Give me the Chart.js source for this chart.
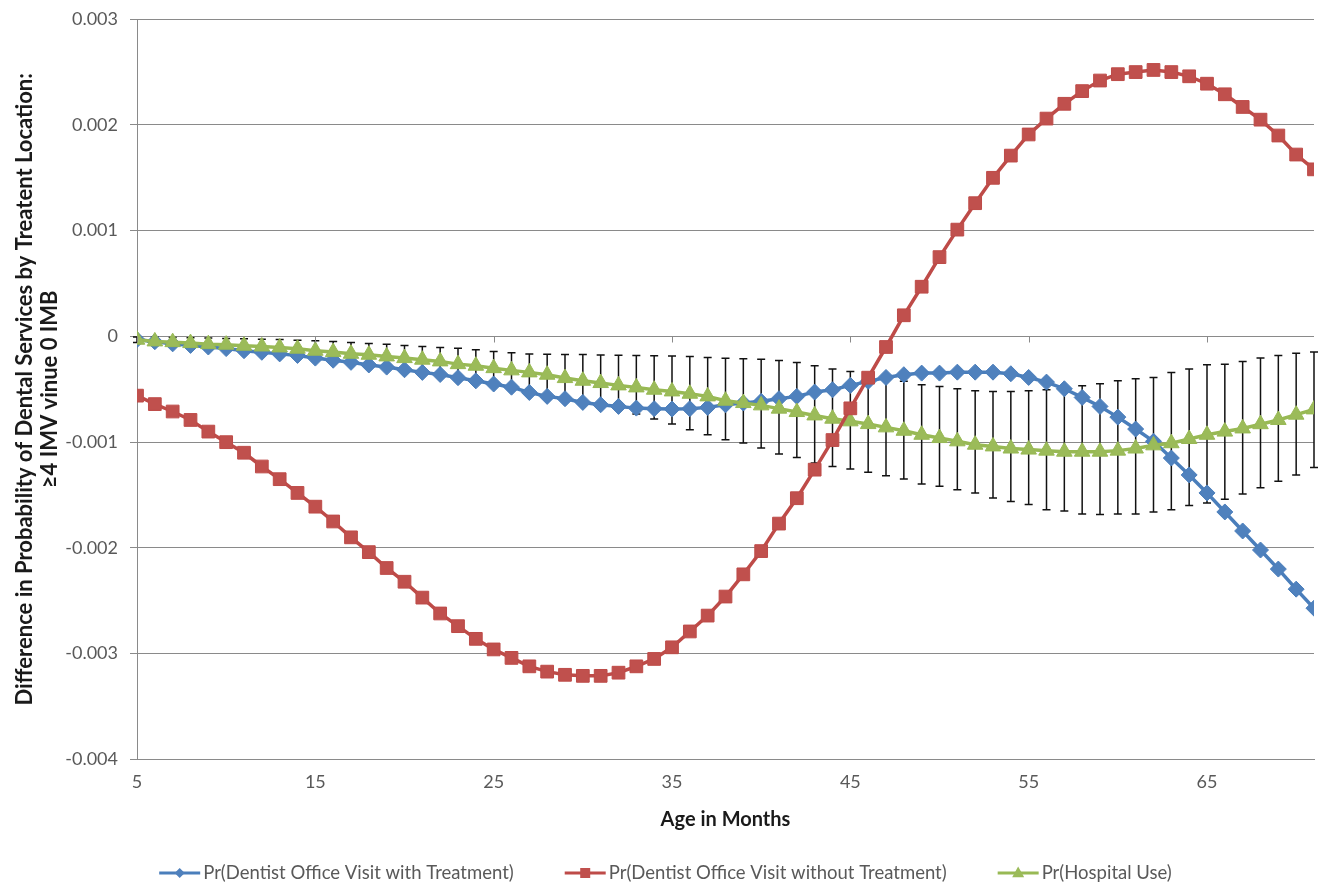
<!DOCTYPE html>
<html>
<head>
    <title>Dental services by treatment location</title>
    <script src="https://cdn.jsdelivr.net/npm/chart.js@4/dist/chart.umd.min.js"></script>
    <style>
        html, body { margin: 0; padding: 0; background: #fff; }
        #holder { width: 1331px; height: 888px; }
    </style>
</head>
<body>
    <div id="holder">
        <canvas id="chart-area"></canvas>
    </div>

    <script>
        // ages in months (categories)
        var ages = [5, 6, 7, 8, 9, 10, 11, 12, 13, 14, 15, 16, 17, 18, 19, 20, 21, 22, 23, 24, 25, 26, 27, 28, 29, 30,
            31, 32, 33, 34, 35, 36, 37, 38, 39, 40, 41, 42, 43, 44, 45, 46, 47, 48, 49, 50, 51, 52, 53, 54, 55, 56,
            57, 58, 59, 60, 61, 62, 63, 64, 65, 66, 67, 68, 69, 70, 71];

        var xTicks = [5, 15, 25, 35, 45, 55, 65];
        var yTicks = [-0.004, -0.003, -0.002, -0.001, 0, 0.001, 0.002, 0.003];

        var seriesNames = [
            'Pr(Dentist Office Visit with Treatment)',
            'Pr(Dentist Office Visit without Treatment)',
            'Pr(Hospital Use)'
        ];

        var withTreatment = [
            -0.03e-3, -0.05e-3, -0.07e-3, -0.085e-3, -0.10e-3, -0.115e-3, -0.135e-3, -0.15e-3, -0.165e-3, -0.18e-3,
            -0.205e-3, -0.225e-3, -0.245e-3, -0.27e-3, -0.29e-3, -0.315e-3, -0.34e-3, -0.36e-3, -0.39e-3, -0.42e-3,
            -0.45e-3, -0.48e-3, -0.53e-3, -0.567e-3, -0.589e-3, -0.624e-3, -0.646e-3, -0.662e-3, -0.678e-3, -0.683e-3,
            -0.687e-3, -0.683e-3, -0.671e-3, -0.646e-3, -0.63e-3, -0.614e-3, -0.589e-3, -0.567e-3, -0.526e-3, -0.504e-3,
            -0.463e-3, -0.425e-3, -0.388e-3, -0.362e-3, -0.347e-3, -0.347e-3, -0.338e-3, -0.338e-3, -0.338e-3, -0.353e-3,
            -0.388e-3, -0.432e-3, -0.495e-3, -0.577e-3, -0.662e-3, -0.763e-3, -0.876e-3, -0.992e-3, -1.15e-3, -1.31e-3,
            -1.48e-3, -1.66e-3, -1.84e-3, -2.02e-3, -2.20e-3, -2.39e-3, -2.57e-3
        ];

        var withoutTreatment = [
            -0.56e-3, -0.64e-3, -0.71e-3, -0.79e-3, -0.90e-3, -1.00e-3, -1.10e-3, -1.23e-3, -1.35e-3, -1.48e-3,
            -1.61e-3, -1.75e-3, -1.90e-3, -2.04e-3, -2.19e-3, -2.32e-3, -2.47e-3, -2.62e-3, -2.74e-3, -2.86e-3,
            -2.96e-3, -3.04e-3, -3.12e-3, -3.17e-3, -3.20e-3, -3.21e-3, -3.21e-3, -3.18e-3, -3.12e-3, -3.05e-3,
            -2.94e-3, -2.79e-3, -2.64e-3, -2.46e-3, -2.25e-3, -2.03e-3, -1.77e-3, -1.53e-3, -1.26e-3, -0.98e-3,
            -0.68e-3, -0.39e-3, -0.10e-3, 0.20e-3, 0.47e-3, 0.75e-3, 1.01e-3, 1.26e-3, 1.50e-3, 1.71e-3,
            1.91e-3, 2.06e-3, 2.20e-3, 2.32e-3, 2.42e-3, 2.48e-3, 2.50e-3, 2.52e-3, 2.50e-3, 2.46e-3,
            2.39e-3, 2.29e-3, 2.17e-3, 2.05e-3, 1.90e-3, 1.72e-3, 1.58e-3
        ];

        var hospitalUse = [
            -0.031e-3, -0.047e-3, -0.054e-3, -0.063e-3, -0.073e-3, -0.078e-3, -0.088e-3, -0.095e-3, -0.104e-3, -0.116e-3,
            -0.135e-3, -0.148e-3, -0.164e-3, -0.173e-3, -0.189e-3, -0.205e-3, -0.22e-3, -0.236e-3, -0.262e-3, -0.277e-3,
            -0.30e-3, -0.321e-3, -0.34e-3, -0.362e-3, -0.394e-3, -0.419e-3, -0.441e-3, -0.463e-3, -0.482e-3, -0.504e-3,
            -0.52e-3, -0.542e-3, -0.567e-3, -0.608e-3, -0.63e-3, -0.652e-3, -0.683e-3, -0.715e-3, -0.747e-3, -0.778e-3,
            -0.803e-3, -0.829e-3, -0.86e-3, -0.892e-3, -0.93e-3, -0.961e-3, -0.992e-3, -1.024e-3, -1.04e-3, -1.06e-3,
            -1.07e-3, -1.08e-3, -1.09e-3, -1.09e-3, -1.09e-3, -1.08e-3, -1.06e-3, -1.03e-3, -1.01e-3, -0.97e-3,
            -0.93e-3, -0.90e-3, -0.87e-3, -0.83e-3, -0.79e-3, -0.74e-3, -0.69e-3
        ];

        // confidence interval of hospital use (error bars)
        var hospitalHigh = [
            -0.005e-3, -0.008e-3, -0.010e-3, -0.013e-3, -0.016e-3, -0.019e-3, -0.022e-3, -0.026e-3, -0.030e-3, -0.035e-3,
            -0.041e-3, -0.047e-3, -0.057e-3, -0.068e-3, -0.075e-3, -0.085e-3, -0.095e-3, -0.104e-3, -0.112e-3, -0.126e-3,
            -0.142e-3, -0.155e-3, -0.165e-3, -0.168e-3, -0.170e-3, -0.172e-3, -0.175e-3, -0.178e-3, -0.180e-3, -0.182e-3,
            -0.185e-3, -0.19e-3, -0.20e-3, -0.206e-3, -0.212e-3, -0.216e-3, -0.227e-3, -0.246e-3, -0.277e-3, -0.309e-3,
            -0.331e-3, -0.362e-3, -0.394e-3, -0.425e-3, -0.457e-3, -0.473e-3, -0.494e-3, -0.513e-3, -0.520e-3, -0.520e-3,
            -0.513e-3, -0.504e-3, -0.489e-3, -0.466e-3, -0.447e-3, -0.419e-3, -0.400e-3, -0.388e-3, -0.340e-3, -0.309e-3,
            -0.268e-3, -0.262e-3, -0.236e-3, -0.205e-3, -0.180e-3, -0.158e-3, -0.148e-3
        ];

        var hospitalLow = [
            -0.057e-3, -0.086e-3, -0.098e-3, -0.113e-3, -0.13e-3, -0.137e-3, -0.154e-3, -0.164e-3, -0.178e-3, -0.197e-3,
            -0.229e-3, -0.249e-3, -0.271e-3, -0.278e-3, -0.303e-3, -0.325e-3, -0.345e-3, -0.368e-3, -0.412e-3, -0.428e-3,
            -0.458e-3, -0.487e-3, -0.515e-3, -0.556e-3, -0.60e-3, -0.64e-3, -0.67e-3, -0.693e-3, -0.734e-3, -0.782e-3,
            -0.829e-3, -0.882e-3, -0.93e-3, -0.977e-3, -1.008e-3, -1.056e-3, -1.112e-3, -1.144e-3, -1.197e-3, -1.229e-3,
            -1.254e-3, -1.285e-3, -1.317e-3, -1.349e-3, -1.396e-3, -1.418e-3, -1.449e-3, -1.481e-3, -1.528e-3, -1.56e-3,
            -1.59e-3, -1.64e-3, -1.65e-3, -1.68e-3, -1.685e-3, -1.68e-3, -1.68e-3, -1.66e-3, -1.64e-3, -1.60e-3,
            -1.575e-3, -1.54e-3, -1.49e-3, -1.43e-3, -1.37e-3, -1.31e-3, -1.24e-3
        ];

        var FONT = 'Lato, "Open Sans", sans-serif';
        var GRID = '#8a8a8a';
        var TEXT = '#595959';

        var blue = '#4A7EBB', red = '#BE4B48', green = '#98B954';

        // error bars on the hospital series, under the lines
        var errorBars = {
            id: 'errorBars',
            beforeDatasetsDraw: function (chart) {
                var ctx = chart.ctx, xs = chart.scales.x, ys = chart.scales.y;
                ctx.save();
                ctx.strokeStyle = '#111';
                ctx.lineWidth = 1.5;
                for (var i = 0; i < ages.length; i++) {
                    var px = xs.getPixelForValue(ages[i]);
                    var top = ys.getPixelForValue(hospitalHigh[i]);
                    var bot = ys.getPixelForValue(hospitalLow[i]);
                    ctx.beginPath();
                    ctx.moveTo(px, top); ctx.lineTo(px, bot);
                    ctx.moveTo(px - 4, top); ctx.lineTo(px + 4, top);
                    ctx.moveTo(px - 4, bot); ctx.lineTo(px + 4, bot);
                    ctx.stroke();
                }
                ctx.restore();
            }
        };

        // horizontal axis crosses at 0: small tick marks on the zero line
        var zeroTicks = {
            id: 'zeroTicks',
            afterDraw: function (chart) {
                var ctx = chart.ctx, xs = chart.scales.x, ys = chart.scales.y;
                var y0 = Math.round(ys.getPixelForValue(0)) + 0.5;
                ctx.save();
                ctx.strokeStyle = GRID;
                ctx.lineWidth = 1;
                ctx.beginPath();
                xTicks.forEach(function (v) {
                    var px = Math.round(xs.getPixelForValue(v)) + 0.5;
                    ctx.moveTo(px, y0); ctx.lineTo(px, y0 + 6);
                });
                ctx.stroke();
                ctx.restore();
            }
        };

        function marker(ctx, style, x, y, r) {
            ctx.beginPath();
            if (style === 'rectRot') {
                ctx.moveTo(x - r, y); ctx.lineTo(x, y - r); ctx.lineTo(x + r, y); ctx.lineTo(x, y + r);
            } else if (style === 'rect') {
                ctx.rect(x - r, y - r, 2 * r, 2 * r);
            } else {
                ctx.moveTo(x, y - r * 1.1); ctx.lineTo(x + r, y + r * 0.7); ctx.lineTo(x - r, y + r * 0.7);
            }
            ctx.closePath();
            ctx.fill();
        }

        // Excel style legend: line with marker, then label
        var bottomLegend = {
            id: 'bottomLegend',
            afterDraw: function (chart) {
                var ctx = chart.ctx;
                var y = 873, lineLen = 41, gap = 3, between = 51;
                ctx.save();
                ctx.font = '18.5px ' + FONT;
                ctx.textBaseline = 'middle';
                var widths = seriesNames.map(function (s) { return ctx.measureText(s).width; });
                var total = widths.reduce(function (a, b) { return a + b; }, 0) + 3 * (lineLen + gap) + 2 * between;
                var x = chart.width / 2 - total / 2;
                var sizes = [5, 5, 6];
                chart.data.datasets.forEach(function (ds, i) {
                    ctx.strokeStyle = ds.borderColor;
                    ctx.fillStyle = ds.backgroundColor;
                    ctx.lineWidth = 3;
                    ctx.beginPath();
                    ctx.moveTo(x, y); ctx.lineTo(x + lineLen, y);
                    ctx.stroke();
                    marker(ctx, ds.pointStyle, x + lineLen / 2, y, sizes[i]);
                    ctx.fillStyle = TEXT;
                    ctx.fillText(seriesNames[i], x + lineLen + gap, y);
                    x += lineLen + gap + widths[i] + between;
                });
                ctx.restore();
            }
        };

        var config = {
            type: 'line',
            data: {
                labels: ages,
                datasets: [{
                    label: seriesNames[0],
                    data: withTreatment,
                    borderColor: blue,
                    backgroundColor: '#4F81BD',
                    borderWidth: 3.5,
                    pointStyle: 'rectRot',
                    pointRadius: 8,
                    pointBorderWidth: 1,
                    pointBorderColor: blue,
                    order: 3
                }, {
                    label: seriesNames[1],
                    data: withoutTreatment,
                    borderColor: red,
                    backgroundColor: '#C0504D',
                    borderWidth: 3.5,
                    pointStyle: 'rect',
                    pointRadius: 9,
                    pointBorderWidth: 1,
                    pointBorderColor: red,
                    order: 1
                }, {
                    label: seriesNames[2],
                    data: hospitalUse,
                    borderColor: green,
                    backgroundColor: '#9BBB59',
                    borderWidth: 3.5,
                    pointStyle: 'triangle',
                    pointRadius: 9,
                    pointBorderWidth: 1,
                    pointBorderColor: green,
                    order: 2
                }]
            },
            options: {
                responsive: true,
                maintainAspectRatio: false,
                animation: false,
                layout: { padding: { left: 10, right: 17, top: 3, bottom: 56 } },
                plugins: {
                    legend: { display: false },
                    tooltip: { enabled: false }
                },
                scales: {
                    x: {
                        type: 'linear',
                        min: 5,
                        max: 71,
                        afterBuildTicks: function (scale) {
                            scale.ticks = xTicks.map(function (v) { return { value: v }; });
                        },
                        grid: { display: false, drawTicks: false },
                        border: { display: true, color: GRID, width: 1 },
                        ticks: {
                            padding: 12,
                            maxRotation: 0,
                            color: TEXT,
                            font: { family: FONT, size: 18 }
                        },
                        title: {
                            display: true,
                            text: 'Age in Months',
                            color: '#1a1a1a',
                            font: { family: FONT, size: 20, weight: 'bold' },
                            padding: { top: 3, bottom: 0 }
                        }
                    },
                    y: {
                        min: -0.004,
                        max: 0.003,
                        afterBuildTicks: function (scale) {
                            scale.ticks = yTicks.map(function (v) { return { value: v }; });
                        },
                        afterFit: function (scale) { scale.width = 127; },
                        grid: { color: GRID, lineWidth: 1, tickLength: 7, drawTicks: true },
                        border: { display: true, color: GRID, width: 1 },
                        ticks: {
                            padding: 12,
                            color: TEXT,
                            font: { family: FONT, size: 18, lineHeight: 0.8 },
                            callback: function (v) {
                                return Math.abs(v) < 1e-9 ? '0' : v.toFixed(3);
                            }
                        },
                        title: {
                            display: true,
                            text: ['Difference in Probability of Dental Services by Treatent Location:', '\u22654 IMV vinue 0 IMB'],
                            color: '#1a1a1a',
                            font: { family: FONT, size: 22, weight: 'bold', lineHeight: 1.15 },
                            padding: { top: 2, bottom: 0 }
                        }
                    }
                }
            },
            plugins: [errorBars, zeroTicks, bottomLegend]
        };

        window.onload = function () {
            var ctx = document.getElementById('chart-area').getContext('2d');
            window.myLine = new Chart(ctx, config);
        };
    </script>
</body>
</html>
